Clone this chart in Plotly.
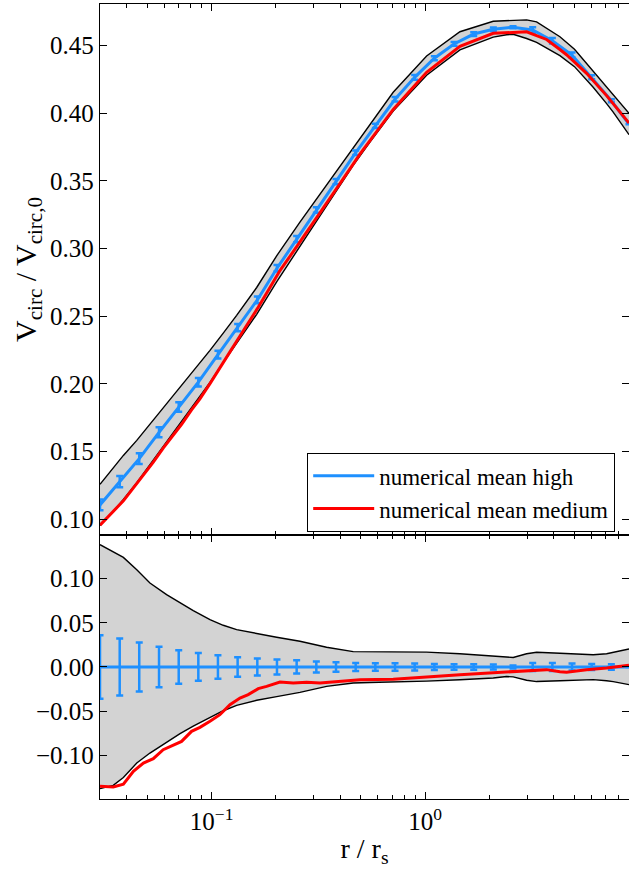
import plotly.graph_objects as go

# ---------------- data ----------------
# radius positions of the "high" mean points (r / r_s)
blue_r = [0.0300, 0.0371, 0.0458, 0.0567, 0.0701, 0.0866, 0.1070, 0.1323, 0.1636, 0.2022,
          0.2500, 0.3091, 0.3821, 0.4724, 0.5840, 0.7221, 0.8926, 1.1035, 1.3643, 1.6866,
          2.0845, 2.577, 3.186, 3.939, 4.869, 6.020, 7.441, 9.0]
blue_v = [0.1106, 0.1278, 0.1448, 0.1643, 0.1830, 0.2013, 0.2217, 0.2416, 0.2621, 0.2855,
          0.3070, 0.3286, 0.3495, 0.3709, 0.3907, 0.4104, 0.4266, 0.4407, 0.4513, 0.4586,
          0.4621, 0.4636, 0.4616, 0.4537, 0.4431, 0.4266, 0.4093, 0.3920]
blue_err = [0.0040, 0.0041, 0.0040, 0.0037, 0.0035, 0.0032, 0.0029, 0.0027, 0.0025, 0.0024,
            0.0023, 0.0020, 0.0019, 0.0017, 0.0016, 0.0017, 0.0017, 0.0015, 0.0014, 0.0014,
            0.0013, 0.0008, 0.0021, 0.0020, 0.0018, 0.0015, 0.0012, 0.0]
blue_res = [0.0, 0.0, 0.0, 0.0, 0.0, 0.0, 0.0, 0.0, 0.0, 0.0,
            0.0, 0.0, 0.0, 0.0, 0.0, 0.0, 0.0, 0.0, 0.0, 0.0,
            0.0, 0.0, 0.0, 0.0, 0.0, 0.0, 0.0, 0.0]
blue_res_err = [0.036, 0.0323, 0.0277, 0.0228, 0.019, 0.0157, 0.0132, 0.0111, 0.0096, 0.0085,
                0.0075, 0.0062, 0.0053, 0.0045, 0.0042, 0.0042, 0.0040, 0.0035, 0.0032, 0.0030,
                0.0028, 0.0018, 0.0045, 0.0045, 0.0040, 0.0035, 0.0030, 0.0]

# scatter band (grey region)
band_r = [0.030, 0.0346, 0.0386, 0.0446, 0.0514, 0.0615, 0.0711, 0.0820, 0.0982, 0.1133,
          0.1309, 0.1625, 0.2015, 0.2590, 0.3451, 0.4600, 0.550, 0.708, 1.015, 1.454,
          2.082, 2.404, 2.582, 2.984, 3.323, 4.273, 5.000, 6.116, 7.070, 7.590, 9.0]
band_upper = [0.1259, 0.1381, 0.1472, 0.1583, 0.1702, 0.1857, 0.1978, 0.2092, 0.2248, 0.2376,
              0.2507, 0.2713, 0.2947, 0.3196, 0.3471, 0.3747, 0.3918, 0.4156, 0.4424, 0.4603,
              0.4680, 0.4683, 0.4686, 0.4691, 0.4676, 0.4566, 0.4474, 0.4313, 0.4198, 0.4144, 0.4000]
band_lower = [0.0954, 0.1058, 0.1146, 0.1271, 0.1403, 0.1570, 0.1705, 0.1835, 0.2012, 0.2157,
              0.2301, 0.2515, 0.2755, 0.3017, 0.3321, 0.3616, 0.3785, 0.4017, 0.4281, 0.4469,
              0.4563, 0.4581, 0.4584, 0.4553, 0.4524, 0.4426, 0.4345, 0.4193, 0.4072, 0.4009, 0.3842]
res_upper = [0.1385, 0.1300, 0.1240, 0.1100, 0.0950, 0.0819, 0.0725, 0.0638, 0.0536, 0.0472,
             0.0423, 0.0377, 0.0336, 0.0291, 0.0223, 0.0174, 0.0172, 0.0172, 0.0168, 0.0150,
             0.0128, 0.0112, 0.0108, 0.0150, 0.0166, 0.0155, 0.0145, 0.0138, 0.0150, 0.0166, 0.0204]
res_lower = [-0.1377, -0.1340, -0.1250, -0.1087, -0.0974, -0.0849, -0.0755, -0.0670, -0.0570, -0.0495,
             -0.0434, -0.0377, -0.0336, -0.0287, -0.0219, -0.0181, -0.0175, -0.0170, -0.0160, -0.0145,
             -0.0125, -0.0108, -0.0112, -0.0150, -0.0165, -0.0155, -0.0148, -0.0143, -0.0155, -0.0165, -0.0200]

# "medium" mean curve
red_r = [0.030, 0.0346, 0.0386, 0.0430, 0.0479, 0.0533, 0.0593, 0.0661, 0.0723, 0.0805,
         0.0881, 0.0982, 0.1093, 0.1218, 0.1357, 0.1483, 0.1652, 0.1808, 0.2088, 0.2410,
         0.2784, 0.3214, 0.3988, 0.4945, 0.7083, 1.015, 1.454, 2.082, 2.984, 3.700,
         4.273, 4.590, 5.697, 7.070, 9.0]
red_v = [0.0957, 0.1056, 0.1136, 0.1232, 0.1327, 0.1422, 0.1526, 0.1623, 0.1702, 0.1809,
         0.1890, 0.2003, 0.2115, 0.2237, 0.2354, 0.2446, 0.2567, 0.2671, 0.2838, 0.2978,
         0.3125, 0.3265, 0.3481, 0.3699, 0.4029, 0.4303, 0.4495, 0.4591, 0.4603, 0.4546,
         0.4472, 0.4433, 0.4296, 0.4131, 0.3928]
red_res = [-0.1350, -0.1358, -0.1325, -0.1180, -0.1087, -0.1038, -0.0936, -0.0880, -0.0842, -0.0728,
           -0.0683, -0.0615, -0.0540, -0.0426, -0.0351, -0.0313, -0.0245, -0.0219, -0.0170, -0.0181,
           -0.0174, -0.0181, -0.0162, -0.0145, -0.0140, -0.0110, -0.0088, -0.0065, -0.0042, -0.0030,
           -0.0053, -0.0060, -0.0030, -0.0011, 0.0020]

# ticks
x_major = [0.1, 1.0]
x_major_text = ["10<sup>−1</sup>", "10<sup>0</sup>"]
x_minor = [0.03, 0.04, 0.05, 0.06, 0.07, 0.08, 0.09, 0.2, 0.3, 0.4, 0.5, 0.6, 0.7, 0.8, 0.9,
           2, 3, 4, 5, 6, 7, 8, 9]
y_top_ticks = [0.10, 0.15, 0.20, 0.25, 0.30, 0.35, 0.40, 0.45]
y_top_text = ["0.10", "0.15", "0.20", "0.25", "0.30", "0.35", "0.40", "0.45"]
y_bot_ticks = [-0.10, -0.05, 0.0, 0.05, 0.10]
y_bot_text = ["−0.10", "−0.05", "0.00", "0.05", "0.10"]

# ---------------- styling ----------------
BLUE = "#1E90FF"
RED = "#FF0000"
GREY = "#D3D3D3"
FONT = "Liberation Serif"

fig = go.Figure()

# top panel band
fig.add_trace(go.Scatter(x=band_r, y=band_lower, mode="lines", line=dict(color="black", width=1.4),
                         showlegend=False, hoverinfo="skip", xaxis="x", yaxis="y"))
fig.add_trace(go.Scatter(x=band_r, y=band_upper, mode="lines", line=dict(color="black", width=1.4),
                         fill="tonexty", fillcolor=GREY, showlegend=False, hoverinfo="skip",
                         xaxis="x", yaxis="y"))
fig.add_trace(go.Scatter(x=blue_r, y=blue_v, mode="lines", name="numerical mean high",
                         line=dict(color=BLUE, width=3),
                         error_y=dict(type="data", array=blue_err, color=BLUE, thickness=2.5, width=3.5),
                         xaxis="x", yaxis="y"))
fig.add_trace(go.Scatter(x=red_r, y=red_v, mode="lines", name="numerical mean medium",
                         line=dict(color=RED, width=3), xaxis="x", yaxis="y"))

# bottom panel band
fig.add_trace(go.Scatter(x=band_r, y=res_lower, mode="lines", line=dict(color="black", width=1.4),
                         showlegend=False, hoverinfo="skip", xaxis="x2", yaxis="y2"))
fig.add_trace(go.Scatter(x=band_r, y=res_upper, mode="lines", line=dict(color="black", width=1.4),
                         fill="tonexty", fillcolor=GREY, showlegend=False, hoverinfo="skip",
                         xaxis="x2", yaxis="y2"))
fig.add_trace(go.Scatter(x=blue_r, y=blue_res, mode="lines", showlegend=False,
                         line=dict(color=BLUE, width=3),
                         error_y=dict(type="data", array=blue_res_err, color=BLUE, thickness=2.5, width=3.5),
                         xaxis="x2", yaxis="y2"))
fig.add_trace(go.Scatter(x=red_r, y=red_res, mode="lines", showlegend=False,
                         line=dict(color=RED, width=3), xaxis="x2", yaxis="y2"))

# invisible traces so the right-hand tick axes are drawn
fig.add_trace(go.Scatter(x=[1.0], y=[0.2], mode="markers", marker=dict(opacity=0),
                         showlegend=False, hoverinfo="skip", xaxis="x", yaxis="y3"))
fig.add_trace(go.Scatter(x=[1.0], y=[0.0], mode="markers", marker=dict(opacity=0),
                         showlegend=False, hoverinfo="skip", xaxis="x2", yaxis="y4"))

XR = [-1.5229, 0.9542]
split = 0.3321

common_x = dict(type="log", range=XR, ticks="inside", ticklen=7, tickwidth=1, tickcolor="black",
                showline=True, linecolor="black", linewidth=1.3, mirror="ticks", showgrid=False,
                zeroline=False, tickmode="array", tickvals=x_major,
                minor=dict(ticks="inside", ticklen=4, tickwidth=1, tickcolor="black",
                           tickmode="array", tickvals=x_minor, showgrid=False))

fig.update_layout(
    width=629, height=871,
    margin=dict(l=100, r=0, t=4, b=72),
    paper_bgcolor="white", plot_bgcolor="white",
    font=dict(family=FONT, color="black", size=25),
    xaxis=dict(common_x, domain=[0, 1], anchor="y", showticklabels=False),
    xaxis2=dict(common_x, domain=[0, 1], anchor="y2", ticktext=x_major_text,
                tickfont=dict(family=FONT, size=25), ticklabelstandoff=0,
                title=dict(text="r / r<sub>s</sub>", font=dict(family=FONT, size=28), standoff=4)),
    yaxis=dict(domain=[split, 1], range=[0.0884, 0.4808], tickmode="array", tickvals=y_top_ticks,
               ticktext=y_top_text, ticks="inside", ticklen=7, tickwidth=1, tickcolor="black",
               showline=True, linecolor="black", linewidth=1.3, mirror=False, showgrid=False,
               zeroline=False, tickfont=dict(family=FONT, size=25),
               title=dict(text="V<sub>circ</sub> / V<sub>circ,0</sub>",
                          font=dict(family=FONT, size=30), standoff=4)),
    yaxis2=dict(domain=[0, split], range=[-0.1494, 0.1494], tickmode="array", tickvals=y_bot_ticks,
                ticktext=y_bot_text, ticks="inside", ticklen=7, tickwidth=1, tickcolor="black",
                showline=True, linecolor="black", linewidth=1.3, mirror=False, showgrid=False,
                zeroline=False, tickfont=dict(family=FONT, size=25)),
    yaxis3=dict(overlaying="y", side="right", anchor="x", range=[0.0884, 0.4808], tickmode="array",
                tickvals=y_top_ticks, ticks="inside", ticklen=7, tickwidth=1, tickcolor="black",
                showticklabels=False, showline=False, showgrid=False, zeroline=False),
    yaxis4=dict(overlaying="y2", side="right", anchor="x2", range=[-0.1494, 0.1494], tickmode="array",
                tickvals=y_bot_ticks, ticks="inside", ticklen=7, tickwidth=1, tickcolor="black",
                showticklabels=False, showline=False, showgrid=False, zeroline=False),
    legend=dict(x=0.3913, y=0.4352, xanchor="left", yanchor="top", bgcolor="white",
                bordercolor="black", borderwidth=1.2, traceorder="normal", itemwidth=61,
                font=dict(family=FONT, size=23, color="black"), tracegroupgap=0),
)

fig.write_html("out.html", config={"displayModeBar": False},
               post_script="document.body.style.margin='0px';")
